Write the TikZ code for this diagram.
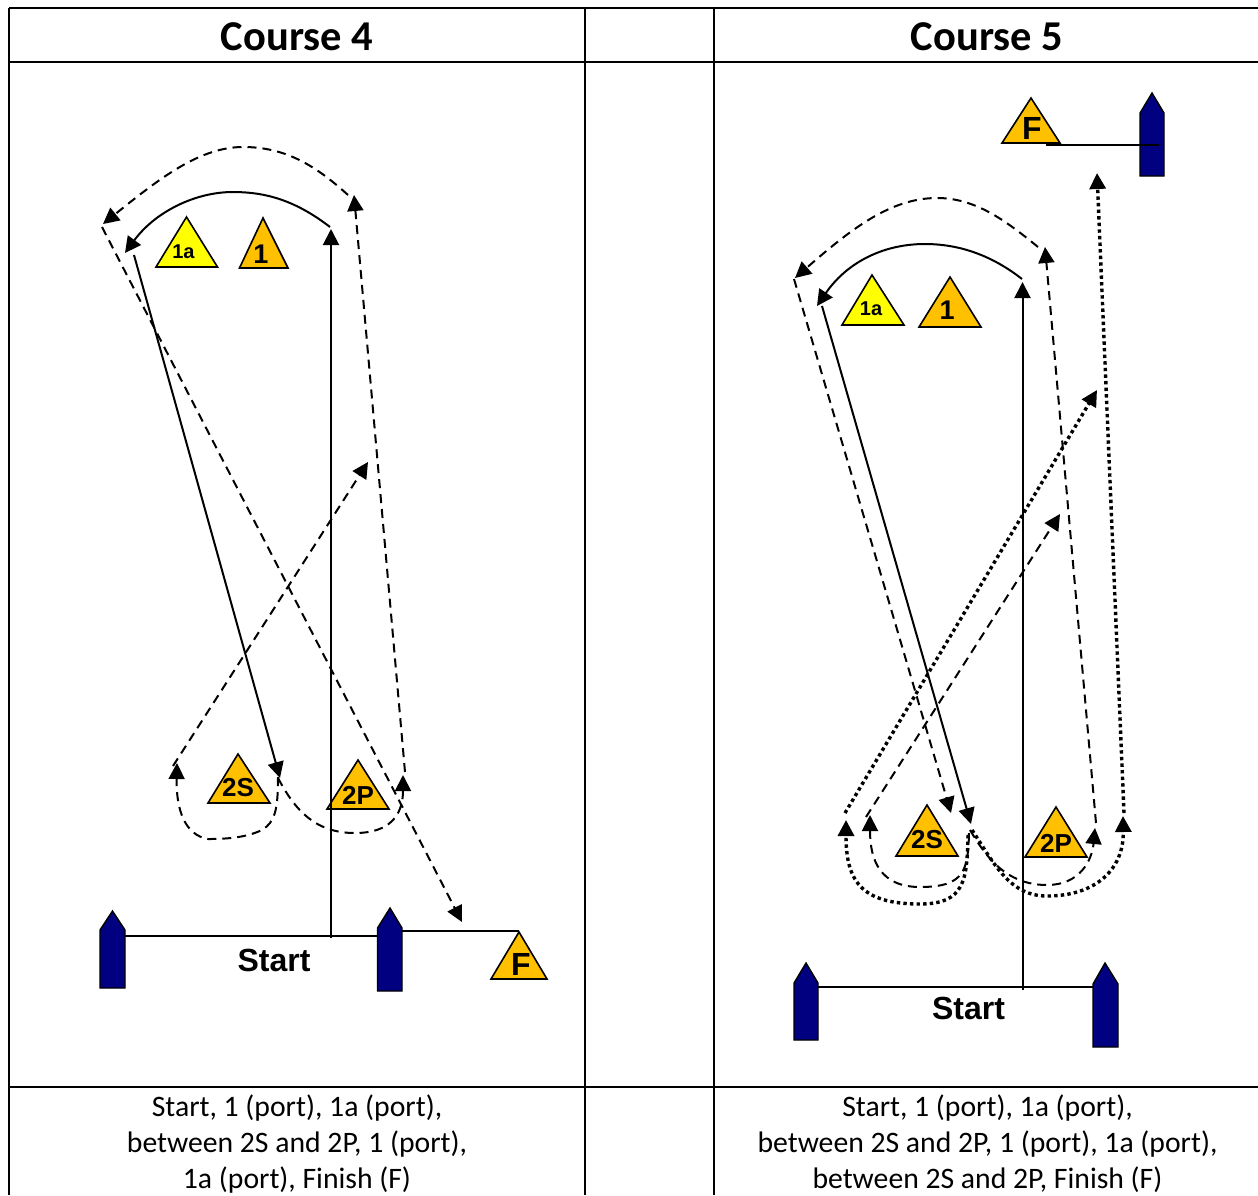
\documentclass[tikz,border=0pt]{standalone}
\usepackage{fontspec}
\setmainfont{Liberation Sans}
\newfontfamily\calfont{Carlito}
\usetikzlibrary{arrows.meta}
\definecolor{amber}{HTML}{FFC000}
\definecolor{buoy}{HTML}{000080}
\definecolor{flagy}{HTML}{FFFF00}
\tikzset{
  grid/.style={line width=1.3pt,black},
  mk/.style={draw=black,line width=1.6pt,line join=miter},
  buoyshape/.style={draw=black,line width=1.4pt,fill=buoy,line join=miter},
  lab/.style={inner sep=0pt,font=\fontsize{#1}{#1}\selectfont\bfseries},
  headtext/.style={inner sep=0pt,font=\calfont\fontsize{42.5}{42.5}\selectfont\bfseries},
  captext/.style={inner sep=0pt,anchor=base,font=\calfont\fontsize{29.7}{36}\selectfont},
  tipped/.style={-{Triangle[length=16pt,width=16pt]}},
  solidln/.style={line width=2pt,black,line join=round},
  dashln/.style={line width=2pt,black,dash pattern=on 9pt off 6pt},
  dotln/.style={line width=3.4pt,black,dash pattern=on 3.4pt off 3.2pt},
  thinln/.style={line width=2pt,black}
}
\begin{document}
\begin{tikzpicture}[x=1pt,y=-1pt]
\useasboundingbox (0,0) rectangle (1258,1195);
\fill[white] (0,0) rectangle (1258,1195);
% table
\draw[grid] (9,8) -- (1258,8);
\draw[grid] (9,62) -- (1258,62);
\draw[grid] (9,1087) -- (1258,1087);
\draw[grid] (9,8) -- (9,1195);
\draw[grid] (585,8) -- (585,1195);
\draw[grid] (714,8) -- (714,1195);
\node[headtext] (t4) at (297,37) {Course 4};
\node[headtext] (t5) at (987,37) {Course 5};
\node[captext] (c4a) at (297,1116) {Start, 1 (port), 1a (port),};
\node[captext] (c4b) at (297,1152) {between 2S and 2P, 1 (port),};
\node[captext] (c4c) at (297,1188) {1a (port), Finish (F)};
\node[captext] (c5a) at (987.5,1116) {Start, 1 (port), 1a (port),};
\node[captext] (c5b) at (987.5,1152) {between 2S and 2P, 1 (port), 1a (port),};
\node[captext] (c5c) at (987.5,1188) {between 2S and 2P, Finish (F)};

% ---------- Course 4 marks
\draw[mk,fill=flagy] (186.5,217) -- (156,267) -- (217.5,267) -- cycle;
\draw[mk,fill=amber] (263,218) -- (239.5,268) -- (288,268) -- cycle;
\draw[mk,fill=amber] (238,754) -- (208,803) -- (270,803) -- cycle;
\draw[mk,fill=amber] (358,760) -- (327,809) -- (389,809) -- cycle;
\draw[mk,fill=amber] (519,932) -- (491,979) -- (547,979) -- cycle;
\node[lab=20] (a1a) at (183.5,252) {1a};
\node[lab=27] (a1) at (261,254) {1};
\node[lab=26] (a2S) at (238,788) {2S};
\node[lab=26] (a2P) at (358,795) {2P};
\node[lab=32] (aF) at (521,964) {F};
\node[lab=32] (aStart) at (274,960) {Start};
% buoys
\draw[buoyshape] (100,930) -- (112.5,911) -- (125,930) -- (125,988) -- (100,988) -- cycle;
\draw[buoyshape] (377.5,928) -- (390,908) -- (402,928) -- (402,991) -- (377.5,991) -- cycle;
\coordinate (aB1) at (125,935.5);
\coordinate (aB2) at (377.5,935.5);
\coordinate (aB3) at (402,931);
\coordinate (aFt) at (519,931);
\draw[thinln] (aB1) -- (aB2);
\draw[thinln] (aB3) -- (aFt);
% course 4 path
\coordinate (aS0) at (331,938);
\coordinate (aS1) at (331,229);
\coordinate (aA0) at (330,227);
\coordinate (aA1) at (125,253);
\coordinate (aL0) at (134,255);
\coordinate (aL1) at (280,778);
\coordinate (aD1) at (177,763);
\coordinate (aD2) at (368,462);
\coordinate (aD3) at (403,775);
\coordinate (aD4) at (354,195);
\coordinate (aD5) at (103,224);
\coordinate (aD6) at (462,922);
\draw[solidln,tipped] (aS0) -- (aS1);
\draw[solidln,tipped] (aA0) .. controls (295,200) and (265,192) .. (233,192) .. controls (195,192) and (155,212) .. (aA1);
\draw[solidln,tipped] (aL0) -- (aL1);
\draw[dashln,tipped] (278,777) .. controls (278,810) and (275,822) .. (262,830) .. controls (245,838) and (225,839) .. (208,839) .. controls (185,835) and (176,810) .. (aD1);
\draw[dashln,tipped] (173,766) -- (aD2);
\draw[dashln,tipped] (278,778) .. controls (295,810) and (315,833) .. (355,833) .. controls (390,833) and (403,815) .. (aD3);
\draw[dashln,tipped] (405,772) -- (aD4);
\draw[dashln,tipped] (348,195) .. controls (315,165) and (285,147) .. (243,147) .. controls (200,147) and (160,178) .. (aD5);
\draw[dashln,tipped] (102,227) -- (aD6);

% ---------- Course 5 marks
\draw[mk,fill=flagy] (872,275) -- (842,325) -- (904,325) -- cycle;
\draw[mk,fill=amber] (950,277) -- (919,327) -- (981,327) -- cycle;
\draw[mk,fill=amber] (927,805) -- (896,856) -- (958,856) -- cycle;
\draw[mk,fill=amber] (1056,807) -- (1025,857) -- (1087,857) -- cycle;
\draw[mk,fill=amber] (1031,98) -- (1002,143) -- (1060,143) -- cycle;
\node[lab=20] (b1a) at (871,309) {1a};
\node[lab=27] (b1) at (947,310) {1};
\node[lab=26] (b2S) at (927,840) {2S};
\node[lab=26] (b2P) at (1056,843) {2P};
\node[lab=32] (bF) at (1032,128) {F};
\node[lab=32] (bStart) at (968.5,1008) {Start};
\draw[buoyshape] (1140,113) -- (1152,93) -- (1164,113) -- (1164,176) -- (1140,176) -- cycle;
\draw[buoyshape] (794,983) -- (806,963) -- (818,983) -- (818,1040) -- (794,1040) -- cycle;
\draw[buoyshape] (1093,984) -- (1105,963) -- (1118,984) -- (1118,1047) -- (1093,1047) -- cycle;
\coordinate (bB1) at (818,987);
\coordinate (bB2) at (1093,987);
\coordinate (bF0) at (1046,145);
\coordinate (bF1) at (1159,145);
\draw[thinln] (bB1) -- (bB2);
\draw[thinln] (bF0) -- (bF1);
% course 5 path
\coordinate (bS0) at (1022.5,990);
\coordinate (bS1) at (1022.5,282);
\coordinate (bA0) at (1022,279);
\coordinate (bA1) at (817,306);
\coordinate (bL0) at (822,306);
\coordinate (bL1) at (971,824);
\coordinate (bD1) at (795,278);
\coordinate (bD2) at (951,813);
\coordinate (bD3) at (1045,247);
\coordinate (bD4) at (1060,514);
\coordinate (bD5) at (870,815);
\coordinate (bD6) at (1095,828);
\coordinate (bP1) at (846,820);
\coordinate (bP2) at (1097,390);
\coordinate (bP3) at (1123,816);
\coordinate (bP4) at (1097,173);
\draw[solidln,tipped] (bS0) -- (bS1);
\draw[solidln,tipped] (bA0) .. controls (985,250) and (950,244) .. (925,244) .. controls (880,244) and (845,265) .. (bA1);
\draw[solidln,tipped] (bL0) -- (bL1);
\draw[dashln,tipped] (1038,247) .. controls (1005,220) and (975,198) .. (937,198) .. controls (890,198) and (850,230) .. (bD1);
\draw[dashln,tipped] (794,279) -- (bD2);
\draw[dashln,tipped] (970,830) .. controls (985,855) and (1005,885) .. (1047,885) .. controls (1080,885) and (1092,860) .. (bD6);
\draw[dashln,tipped] (1096,823) -- (bD3);
\draw[dashln,tipped] (969,833) .. controls (968,870) and (965,887) .. (920,887) .. controls (880,887) and (870,860) .. (bD5);
\draw[dashln,tipped] (866,817) -- (bD4);
\draw[dotln,tipped] (972,830) .. controls (995,865) and (1010,896) .. (1047,896) .. controls (1095,896) and (1124,870) .. (bP3);
\draw[dotln,tipped] (1124,813) -- (bP4);
\draw[dotln,tipped] (968,835) .. controls (967,880) and (965,904) .. (920,904) .. controls (860,904) and (846,880) .. (bP1);
\draw[dotln,tipped] (845,813) -- (bP2);
\end{tikzpicture}
\end{document}
